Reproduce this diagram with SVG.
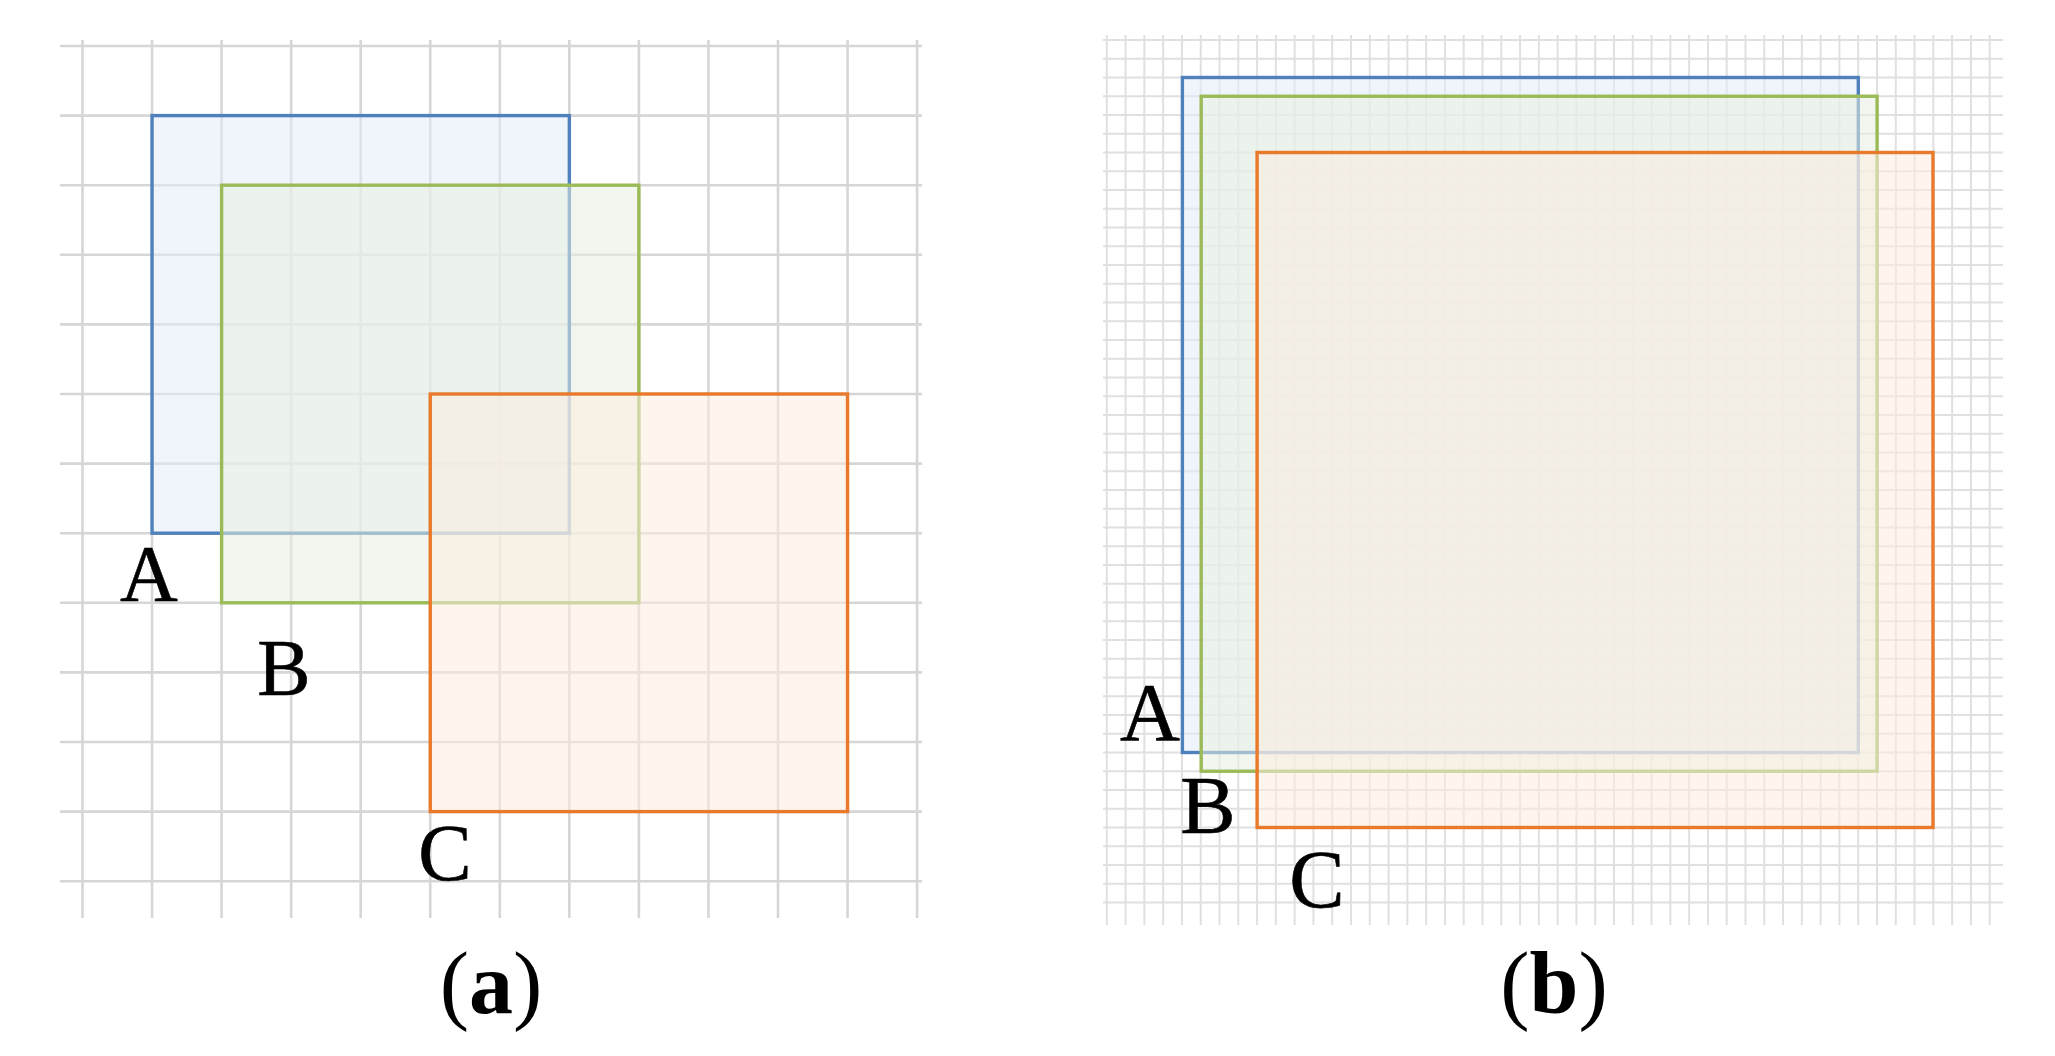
<svg xmlns="http://www.w3.org/2000/svg" width="2055" height="1056" viewBox="0 0 2055 1056">
<style>
.ga{fill:none;stroke:#d6d6d6;stroke-width:2.6}
.gb{fill:none;stroke:#e0e0e0;stroke-width:2}
.ra{fill:#e4edf7;fill-opacity:.55;stroke:#4f81bd;stroke-width:3.4}
.rb{fill:#e9efe0;fill-opacity:.55;stroke:#9bbb59;stroke-width:3.4}
.rc{fill:#fbece0;fill-opacity:.55;stroke:#e97a2b;stroke-width:3.4}
.lbl{font-family:"Liberation Serif","Times New Roman",serif;fill:#000;text-anchor:middle;stroke:#000;stroke-width:.6}
.cap{font-family:"Liberation Serif","Times New Roman",serif;font-size:88px;fill:#000;text-anchor:middle}
</style>
<rect width="2055" height="1056" fill="#fff"/>
<g id="grid-a">
<path class="ga" d="M82.5 40v878m69.55-878v878m69.55-878v878m69.55-878v878m69.55-878v878m69.55-878v878m69.55-878v878m69.55-878v878m69.55-878v878m69.55-878v878m69.55-878v878m69.55-878v878m69.55-878v878"/>
<path class="ga" d="M60 46h862m-862 69.6h862m-862 69.6h862m-862 69.6h862m-862 69.6h862m-862 69.6h862m-862 69.6h862m-862 69.6h862m-862 69.6h862m-862 69.6h862m-862 69.6h862m-862 69.6h862m-862 69.6h862"/>
</g>
<g id="grid-b">
<path class="gb" d="M1106.8 35v890m18.785-890v890m18.785-890v890m18.785-890v890m18.785-890v890m18.785-890v890m18.785-890v890m18.785-890v890m18.785-890v890m18.785-890v890m18.785-890v890m18.785-890v890m18.785-890v890m18.785-890v890m18.785-890v890m18.785-890v890m18.785-890v890m18.785-890v890m18.785-890v890m18.785-890v890m18.785-890v890m18.785-890v890m18.785-890v890m18.785-890v890m18.785-890v890m18.785-890v890m18.785-890v890m18.785-890v890m18.785-890v890m18.785-890v890m18.785-890v890m18.785-890v890m18.785-890v890m18.785-890v890m18.785-890v890m18.785-890v890m18.785-890v890m18.785-890v890m18.785-890v890m18.785-890v890m18.785-890v890m18.785-890v890m18.785-890v890m18.785-890v890m18.785-890v890m18.785-890v890m18.785-890v890m18.785-890v890"/>
<path class="gb" d="M1103 40h900m-900 18.75h900m-900 18.75h900m-900 18.75h900m-900 18.75h900m-900 18.75h900m-900 18.75h900m-900 18.75h900m-900 18.75h900m-900 18.75h900m-900 18.75h900m-900 18.75h900m-900 18.75h900m-900 18.75h900m-900 18.75h900m-900 18.75h900m-900 18.75h900m-900 18.75h900m-900 18.75h900m-900 18.75h900m-900 18.75h900m-900 18.75h900m-900 18.75h900m-900 18.75h900m-900 18.75h900m-900 18.75h900m-900 18.75h900m-900 18.75h900m-900 18.75h900m-900 18.75h900m-900 18.75h900m-900 18.75h900m-900 18.75h900m-900 18.75h900m-900 18.75h900m-900 18.75h900m-900 18.75h900m-900 18.75h900m-900 18.75h900m-900 18.75h900m-900 18.75h900m-900 18.75h900m-900 18.75h900m-900 18.75h900m-900 18.75h900m-900 18.75h900m-900 18.75h900"/>
</g>
<g id="a-A"><rect class="ra" x="152.05" y="115.6" width="417.3" height="417.6"/><text class="lbl" x="149" y="601" font-size="80">A</text></g>
<g id="a-B"><rect class="rb" x="221.6" y="185.2" width="417.3" height="417.6"/><text class="lbl" x="284" y="695" font-size="80">B</text></g>
<g id="a-C"><rect class="rc" x="430.25" y="394" width="417.3" height="417.6"/><text class="lbl" x="445" y="880" font-size="80">C</text></g>
<g id="b-A"><rect class="ra" x="1182.4" y="77.5" width="675.9" height="675"/><text class="lbl" x="1150" y="740" font-size="83">A</text></g>
<g id="b-B"><rect class="rb" x="1201.2" y="96.25" width="675.9" height="675"/><text class="lbl" x="1208" y="833" font-size="83">B</text></g>
<g id="b-C"><rect class="rc" x="1257.1" y="152.5" width="675.9" height="675"/><text class="lbl" x="1317" y="907" font-size="83">C</text></g>
<g id="connectors"/>
<g id="captions">
<text class="cap" x="491" y="1013">(<tspan font-weight="bold">a</tspan>)</text>
<text class="cap" x="1554" y="1013">(<tspan font-weight="bold">b</tspan>)</text>
</g>
</svg>
